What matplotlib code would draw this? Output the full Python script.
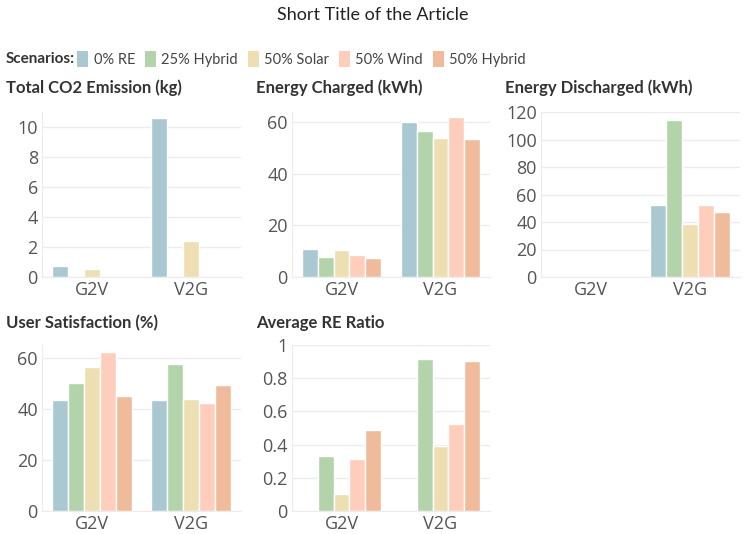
import numpy as np
import matplotlib.pyplot as plt
from matplotlib.patches import Patch

modes = ['G2V', 'V2G']
scenarios = ['0% RE', '25% Hybrid', '50% Solar', '50% Wind', '50% Hybrid']
colors = ['#a9c8d1', '#b3d4ab', '#eedfb3', '#ffcdbb', '#efbb9b']

# values per scenario: [G2V, V2G]
co2 = [[0.71, 10.63], [0, 0], [0.56, 2.43], [0, 0], [0, 0]]
charged = [[10.8, 60.0], [7.7, 56.8], [10.4, 53.8], [8.7, 62.2], [7.2, 53.6]]
discharged = [[0, 52.3], [0, 113.9], [0, 38.7], [0, 52.3], [0, 47.0]]
satisfaction = [[43.4, 43.4], [50.3, 57.5], [56.2, 43.9], [62.2, 42.4], [45.2, 49.4]]
re_ratio = [[0, 0], [0.329, 0.914], [0.102, 0.392], [0.313, 0.522], [0.49, 0.902]]

panels = [
    ('Total CO2 Emission (kg)', co2, 11, [0, 2, 4, 6, 8, 10], None),
    ('Energy Charged (kWh)', charged, 64, [0, 20, 40, 60], None),
    ('Energy Discharged (kWh)', discharged, 120, [0, 20, 40, 60, 80, 100, 120], None),
    ('User Satisfaction (%)', satisfaction, 65, [0, 20, 40, 60], None),
    ('Average RE Ratio', re_ratio, 1, [0, 0.2, 0.4, 0.6, 0.8, 1], ['0', '0.2', '0.4', '0.6', '0.8', '1']),
]

W, H = 746, 534
fig = plt.figure(figsize=(W / 100, H / 100), dpi=100)

# axes boxes in pixels: left, top, right, bottom, title y
boxes = [(42, 112, 241, 277, 88), (292, 112, 490, 277, 88), (541, 112, 740, 277, 88),
         (42, 345, 241, 511, 323), (292, 345, 490, 511, 323)]

x = np.arange(len(modes))
bw = 0.16
for (title, data, ymax, ticks, tlabels), (l, t, r, b, ty) in zip(panels, boxes):
    ax = fig.add_axes([l / W, 1 - b / H, (r - l) / W, (b - t) / H])
    for i, vals in enumerate(data):
        ax.bar(x + (i - 2) * bw, vals, bw, color=colors[i], edgecolor='white', linewidth=1)
    ax.set_xlim(-0.5, 1.5)
    ax.set_ylim(0, ymax)
    ax.set_xticks(x)
    ax.set_xticklabels(modes)
    ax.set_yticks(ticks)
    if tlabels:
        ax.set_yticklabels(tlabels)
    ax.tick_params(length=0, labelsize=13, labelcolor='#555555', pad=3)
    for lab in ax.get_xticklabels() + ax.get_yticklabels():
        lab.set_fontfamily('Open Sans')
    ax.grid(axis='y', color='#ececec', linewidth=1)
    ax.set_axisbelow(True)
    for s in ['top', 'right']:
        ax.spines[s].set_visible(False)
    for s in ['left', 'bottom']:
        ax.spines[s].set_color('#ececec')
    fig.text((l - 36) / W, 1 - ty / H, title, fontsize=12, fontweight='bold',
             color='#333333', family='Lato', va='center', ha='left')

fig.text(0.5, 1 - 15 / H, 'Short Title of the Article', ha='center', va='center',
         fontsize=13, family='Lato', color='#222222')
fig.text(6 / W, 1 - 59 / H, 'Scenarios:', fontsize=11, fontweight='bold',
         family='Lato', color='#333333', va='center')
handles = [Patch(facecolor=c, edgecolor='none') for c in colors]
leg = fig.legend(handles, scenarios, ncol=5, loc='center left',
                 bbox_to_anchor=(76 / W, 1 - 59 / H), frameon=False,
                 handlelength=0.75, handleheight=1.3, handletextpad=0.35,
                 columnspacing=0.7, borderaxespad=0, borderpad=0.1,
                 prop={'family': 'Lato', 'size': 10.5})
for t in leg.get_texts():
    t.set_color('#444444')

plt.savefig('out.png', dpi=100)
